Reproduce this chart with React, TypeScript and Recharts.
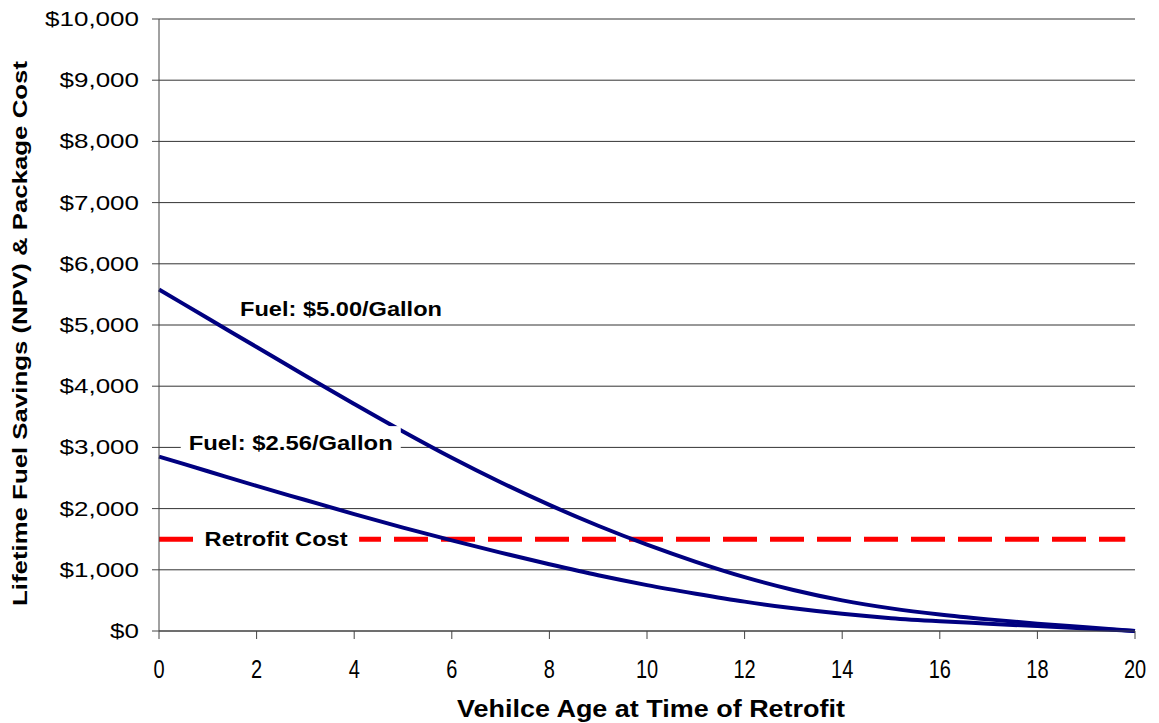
import React from 'react';
import { LineChart, Line, XAxis, YAxis, CartesianGrid, ReferenceDot, Label } from 'recharts';

const ages = [0, 1, 2, 3, 4, 5, 6, 7, 8, 9, 10, 11, 12, 13, 14, 15, 16, 17, 18, 19, 20];
const fuel500 = [5580, 5110, 4640, 4170, 3710, 3260, 2830, 2430, 2060, 1720, 1410, 1130, 880, 670, 500, 370, 270, 190, 120, 60, 0];
const fuel256 = [2850, 2610, 2370, 2140, 1910, 1690, 1480, 1280, 1090, 910, 750, 610, 480, 370, 280, 210, 160, 120, 80, 40, 0];
const retrofitAges = [0, 19.8];
const retrofitCost = 1500;
const xTicks = [0, 2, 4, 6, 8, 10, 12, 14, 16, 18, 20];
const yTicks = [0, 1000, 2000, 3000, 4000, 5000, 6000, 7000, 8000, 9000, 10000];

const data = ages.map((a, i) => ({ age: a, high: fuel500[i], low: fuel256[i] }));
const retrofitData = retrofitAges.map((a) => ({ age: a, cost: retrofitCost }));

const notes = [
  { age: 3.73, value: 5260, text: 'Fuel: $5.00/Gallon', len: 202, box: 0 },
  { age: 2.7, value: 3070, text: 'Fuel: $2.56/Gallon', len: 204, box: 220 },
  { age: 2.4, value: 1500, text: 'Retrofit Cost', len: 143, box: 166 },
];

const FONT = '"Liberation Sans", Arial, sans-serif';

const fmt = (v: number) => '$' + v.toLocaleString('en-US');

const YTick = (props: any) => {
  const { x, y, payload } = props;
  return (
    <text
      x={x}
      y={y}
      dy={7}
      textAnchor="end"
      fontSize={20}
      fontFamily={FONT}
      fill="#000"
      transform={`translate(${x} ${y}) scale(1.3 1) translate(${-x} ${-y})`}
    >
      {fmt(payload.value)}
    </text>
  );
};

const XTick = (props: any) => {
  const { x, payload } = props;
  const base = 678;
  return (
    <text
      x={x}
      y={base}
      textAnchor="middle"
      fontSize={20}
      fontFamily={FONT}
      fill="#000"
      transform={`translate(${x} ${base}) scale(1 1.25) translate(${-x} ${-base})`}
    >
      {payload.value}
    </text>
  );
};

const noteShape = (n: typeof notes[number]) => (props: any) => {
  const { cx, cy } = props;
  return (
    <g>
      {n.box > 0 && <rect x={cx - n.box / 2} y={cy - 17} width={n.box} height={34} fill="#fff" />}
      <text
        x={cx - n.len / 2}
        y={cy + 7}
        fontSize={20}
        fontWeight="bold"
        fontFamily={FONT}
        fill="#000"
        textLength={n.len}
        lengthAdjust="spacingAndGlyphs"
      >
        {n.text}
      </text>
    </g>
  );
};

const App: React.FC = () => {
  return (
    <div style={{ position: 'absolute', left: 0, top: 0, background: '#fff' }}>
      <LineChart width={1159} height={723} data={data} margin={{ top: 19, right: 24, left: 0, bottom: 0 }}>
        <CartesianGrid vertical={false} stroke="#333" strokeWidth={1} />
        <XAxis
          dataKey="age"
          type="number"
          domain={[0, 20]}
          ticks={xTicks}
          height={92}
          tickSize={8}
          stroke="#444"
          tick={<XTick />}
          interval={0}
        >
          <Label
            content={() => (
              <text
                x={457}
                y={717}
                fontSize={23}
                fontWeight="bold"
                fontFamily={FONT}
                fill="#000"
                textLength={388}
                lengthAdjust="spacingAndGlyphs"
              >
                Vehilce Age at Time of Retrofit
              </text>
            )}
          />
        </XAxis>
        <YAxis
          type="number"
          domain={[0, 10000]}
          ticks={yTicks}
          width={159}
          tickSize={7}
          tickMargin={13}
          stroke="#444"
          tick={<YTick />}
          interval={0}
        >
          <Label
            content={() => (
              <text
                x={0}
                y={0}
                fontSize={21}
                fontWeight="bold"
                fontFamily={FONT}
                fill="#000"
                textLength={545}
                lengthAdjust="spacingAndGlyphs"
                transform="translate(27 606) rotate(-90)"
              >
                Lifetime Fuel Savings (NPV) &amp; Package Cost
              </text>
            )}
          />
        </YAxis>
        <Line
          data={retrofitData}
          dataKey="cost"
          type="linear"
          stroke="#ff0000"
          strokeWidth={5}
          strokeDasharray="34 13"
          dot={false}
          activeDot={false}
          isAnimationActive={false}
        />
        <Line
          dataKey="low"
          type="monotone"
          stroke="#000080"
          strokeWidth={4}
          dot={false}
          activeDot={false}
          isAnimationActive={false}
        />
        <Line
          dataKey="high"
          type="monotone"
          stroke="#000080"
          strokeWidth={4}
          dot={false}
          activeDot={false}
          isAnimationActive={false}
        />
        {notes.map((n) => (
          <ReferenceDot key={n.text} x={n.age} y={n.value} r={0} shape={noteShape(n)} />
        ))}
      </LineChart>
    </div>
  );
};

export default App;
